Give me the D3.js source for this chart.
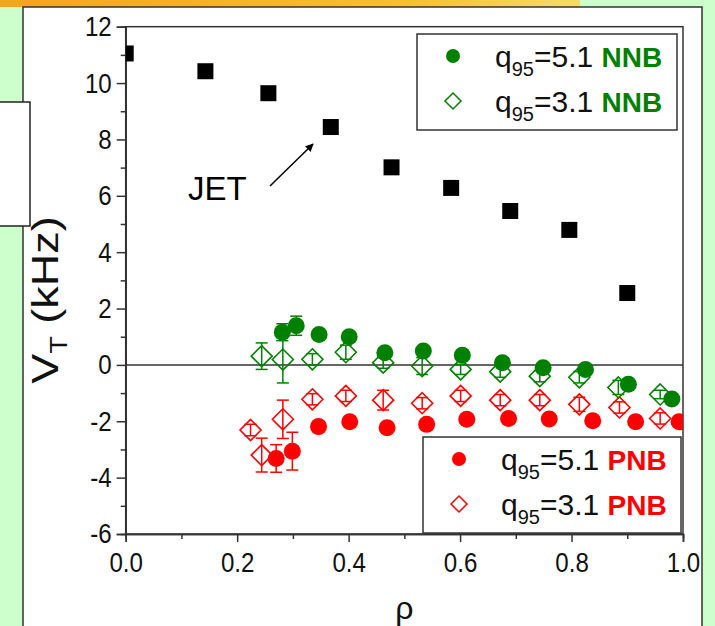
<!DOCTYPE html>
<html>
<head>
<meta charset="utf-8">
<script src="https://cdn.jsdelivr.net/npm/d3@7"></script>
<style>
body { margin: 0; background: #ccffcc; }
svg { display: block; font-family: "Liberation Sans", Arial, sans-serif; }
</style>
</head>
<body>
<div id="chart"></div>
<script>
// dimensions
var width = 715;
var height = 626;

// data
var jetRho = [0.0, 0.143, 0.256, 0.368, 0.477, 0.584, 0.690, 0.796, 0.900];
var jetV = [11.05, 10.42, 9.64, 8.44, 7.01, 6.28, 5.46, 4.79, 2.55];

var nnb51Rho = [0.281, 0.306, 0.347, 0.401, 0.465, 0.534, 0.604, 0.676, 0.749, 0.825, 0.902, 0.980];
var nnb51V = [1.16, 1.39, 1.08, 1.0, 0.43, 0.49, 0.34, 0.08, -0.10, -0.16, -0.69, -1.21];
var nnb51Err = [0.3, 0.34, 0, 0, 0, 0, 0, 0, 0, 0, 0.15, 0];

var nnb31Rho = [0.244, 0.282, 0.335, 0.395, 0.462, 0.532, 0.601, 0.672, 0.743, 0.814, 0.884, 0.959];
var nnb31V = [0.31, 0.19, 0.20, 0.45, 0.08, -0.04, -0.16, -0.24, -0.40, -0.44, -0.80, -1.05];
var nnb31Err = [0.47, 0.83, 0.2, 0.25, 0.2, 0.3, 0.18, 0.2, 0.2, 0.2, 0.25, 0.15];

var pnb51Rho = [0.270, 0.299, 0.346, 0.402, 0.469, 0.540, 0.612, 0.687, 0.760, 0.838, 0.915, 0.993];
var pnb51V = [-3.32, -3.06, -2.19, -2.02, -2.23, -2.11, -1.93, -1.90, -1.92, -1.98, -2.02, -2.02];
var pnb51Err = [0.49, 0.67, 0, 0, 0, 0, 0, 0, 0, 0, 0, 0];

var pnb31Rho = [0.224, 0.244, 0.282, 0.335, 0.395, 0.462, 0.532, 0.601, 0.672, 0.743, 0.814, 0.886, 0.959];
var pnb31V = [-2.31, -3.20, -1.93, -1.22, -1.10, -1.25, -1.36, -1.10, -1.25, -1.25, -1.40, -1.51, -1.90];
var pnb31Err = [0.2, 0.6, 0.68, 0.2, 0.2, 0.35, 0.2, 0.2, 0.2, 0.2, 0.25, 0.2, 0.2];

var xTicks = [0, 0.2, 0.4, 0.6, 0.8, 1.0];
var yTicks = [-6, -4, -2, 0, 2, 4, 6, 8, 10, 12];

var green = "#008000";
var red = "#ff0000";

function zip(a, b, e) {
    return a.map(function (d, i) {
        return {x: d, y: b[i], e: e ? e[i] : 0};
    });
}

// squeeze a text horizontally, the picture uses a condensed face
function condense(sel, k) {
    sel.each(function () {
        var w = this.getComputedTextLength();
        d3.select(this).attr("textLength", w * k).attr("lengthAdjust", "spacingAndGlyphs");
    });
}

var svg = d3.select("#chart")
    .append("svg")
    .attr("width", width)
    .attr("height", height);

// background decoration
var defs = svg.append("defs");
var grad = defs.append("linearGradient").attr("id", "stripe");
grad.append("stop").attr("offset", "0%").attr("stop-color", "#f3a51c");
grad.append("stop").attr("offset", "70%").attr("stop-color", "#f6c12a");
grad.append("stop").attr("offset", "100%").attr("stop-color", "#f4dc6a");
svg.append("rect").attr("x", 0).attr("y", 0).attr("width", 580).attr("height", 7)
    .attr("fill", "url(#stripe)");
svg.append("rect").attr("x", 23).attr("y", 7).attr("width", 679).attr("height", 640)
    .attr("fill", "#ffffff").attr("stroke", "#333").attr("stroke-width", 1.5);
svg.append("rect").attr("x", -2).attr("y", 102).attr("width", 32).attr("height", 124)
    .attr("fill", "#ffffff").attr("stroke", "#222").attr("stroke-width", 1.5);

var x = d3.scaleLinear().domain([0, 1]).range([125.7, 683]);
var y = d3.scaleLinear().domain([-6, 12]).range([534, 26.7]);

defs.append("clipPath").attr("id", "plotclip")
    .append("rect")
    .attr("x", x(0)).attr("y", y(12))
    .attr("width", x(1) - x(0)).attr("height", y(-6) - y(12));

// frame
svg.append("rect")
    .attr("x", x(0)).attr("y", y(12))
    .attr("width", x(1) - x(0)).attr("height", y(-6) - y(12))
    .attr("fill", "none").attr("stroke", "#333").attr("stroke-width", 1.5);

// axes
svg.append("g")
    .attr("transform", "translate(0," + y(-6) + ")")
    .call(d3.axisBottom(x).tickValues(xTicks).tickFormat(d3.format(".1f")).tickSize(8).tickPadding(10));
svg.append("g")
    .attr("transform", "translate(0," + y(-6) + ")")
    .call(d3.axisBottom(x).tickValues([0.1, 0.3, 0.5, 0.7, 0.9]).tickFormat("").tickSize(5));
svg.append("g")
    .attr("transform", "translate(" + x(0) + ",0)")
    .call(d3.axisLeft(y).tickValues(yTicks).tickFormat(function (d) { return String(d); }).tickSize(9).tickPadding(5));
svg.append("g")
    .attr("transform", "translate(" + x(0) + ",0)")
    .call(d3.axisLeft(y).tickValues([-5, -3, -1, 1, 3, 5, 7, 9, 11]).tickFormat("").tickSize(5));

svg.selectAll(".domain").attr("stroke", "#333").attr("stroke-width", 1.5);
svg.selectAll(".tick line").attr("stroke", "#333").attr("stroke-width", 1.5);
svg.selectAll(".tick text")
    .attr("font-family", "Liberation Sans, Arial, sans-serif")
    .attr("font-size", "28px")
    .attr("fill", "#111")
    .call(condense, 0.86);

// zero line
svg.append("line")
    .attr("x1", x(0)).attr("x2", x(1))
    .attr("y1", y(0)).attr("y2", y(0))
    .attr("stroke", "#333").attr("stroke-width", 1.5);

// axis titles
var yTitle = svg.append("text")
    .attr("transform", "translate(58,300) rotate(-90) scale(1.25,1)")
    .attr("text-anchor", "middle")
    .attr("font-size", "36px")
    .attr("fill", "#111");
yTitle.append("tspan").text("V");
yTitle.append("tspan").attr("font-size", "23px").attr("dy", 9).text("T");
yTitle.append("tspan").attr("dy", -9).text(" (kHz)");

svg.append("text")
    .attr("x", (x(0) + x(1)) / 2)
    .attr("y", 619)
    .attr("text-anchor", "middle")
    .attr("font-size", "32px")
    .attr("fill", "#111")
    .text("ρ");

var plot = svg.append("g").attr("clip-path", "url(#plotclip)");

var diamond = function (s) {
    return "M0," + (-s) + "L" + s + ",0L0," + s + "L" + (-s) + ",0Z";
};

function drawErrors(data, color) {
    var g = plot.append("g").attr("stroke", color).attr("stroke-width", 1.5);
    data.filter(function (d) { return d.e > 0; }).forEach(function (d) {
        var cx = x(d.x);
        g.append("line").attr("x1", cx).attr("x2", cx)
            .attr("y1", y(d.y + d.e)).attr("y2", y(d.y - d.e));
        g.append("line").attr("x1", cx - 6).attr("x2", cx + 6)
            .attr("y1", y(d.y + d.e)).attr("y2", y(d.y + d.e));
        g.append("line").attr("x1", cx - 6).attr("x2", cx + 6)
            .attr("y1", y(d.y - d.e)).attr("y2", y(d.y - d.e));
    });
}

function drawDiamonds(data, color) {
    drawErrors(data, color);
    plot.append("g").selectAll("path")
        .data(data)
        .enter()
        .append("path")
        .attr("transform", function (d) { return "translate(" + x(d.x) + "," + y(d.y) + ")"; })
        .attr("d", diamond(10.5))
        .attr("fill", "none")
        .attr("stroke", color)
        .attr("stroke-width", 1.6);
}

function drawCircles(data, color) {
    drawErrors(data, color);
    plot.append("g").selectAll("circle")
        .data(data)
        .enter()
        .append("circle")
        .attr("cx", function (d) { return x(d.x); })
        .attr("cy", function (d) { return y(d.y); })
        .attr("r", 8.5)
        .attr("fill", color);
}

drawDiamonds(zip(pnb31Rho, pnb31V, pnb31Err), red);
drawDiamonds(zip(nnb31Rho, nnb31V, nnb31Err), green);
drawCircles(zip(pnb51Rho, pnb51V, pnb51Err), red);
drawCircles(zip(nnb51Rho, nnb51V, nnb51Err), green);

// JET squares
plot.append("g").selectAll("rect")
    .data(zip(jetRho, jetV))
    .enter()
    .append("rect")
    .attr("x", function (d) { return x(d.x) - 8; })
    .attr("y", function (d) { return y(d.y) - 8; })
    .attr("width", 16)
    .attr("height", 16)
    .attr("fill", "#000");

// JET annotation
defs.append("marker")
    .attr("id", "arrow")
    .attr("viewBox", "0 0 10 10")
    .attr("refX", 9).attr("refY", 5)
    .attr("markerWidth", 10).attr("markerHeight", 8)
    .attr("markerUnits", "userSpaceOnUse")
    .attr("orient", "auto")
    .append("path").attr("d", "M0,0L10,5L0,10Z").attr("fill", "#000");
svg.append("line")
    .attr("x1", 270).attr("y1", 186)
    .attr("x2", 313).attr("y2", 144)
    .attr("stroke", "#000").attr("stroke-width", 1.5)
    .attr("marker-end", "url(#arrow)");
svg.append("text")
    .attr("x", 188).attr("y", 200)
    .attr("font-size", "33px")
    .attr("fill", "#000")
    .text("JET");

// legends
function legend(bx, by, bw, bh, rows, color, label) {
    var g = svg.append("g");
    g.append("rect").attr("x", bx).attr("y", by).attr("width", bw).attr("height", bh)
        .attr("fill", "#fff").attr("stroke", "#333").attr("stroke-width", 1.5);
    rows.forEach(function (r, i) {
        var cy = by + 22 + i * 45;
        if (r.filled) {
            g.append("circle").attr("cx", bx + 36).attr("cy", cy).attr("r", 7).attr("fill", color);
        } else {
            g.append("path").attr("transform", "translate(" + (bx + 36) + "," + cy + ")")
                .attr("d", diamond(8)).attr("fill", "none").attr("stroke", color).attr("stroke-width", 1.5);
        }
        var t = g.append("text").attr("x", bx + 78).attr("y", cy + 11)
            .attr("font-size", "30px").attr("fill", "#111");
        t.append("tspan").text("q");
        t.append("tspan").attr("font-size", "20px").attr("dy", 9).text("95");
        t.append("tspan").attr("dy", -9).text("=" + r.q + " ");
        t.append("tspan").attr("font-weight", "bold").attr("font-size", "28px").attr("fill", color).text(label);
    });
}

legend(417, 34, 260, 96, [{filled: true, q: "5.1"}, {filled: false, q: "3.1"}], green, "NNB");
legend(423, 437, 258, 96, [{filled: true, q: "5.1"}, {filled: false, q: "3.1"}], red, "PNB");
</script>
</body>
</html>
